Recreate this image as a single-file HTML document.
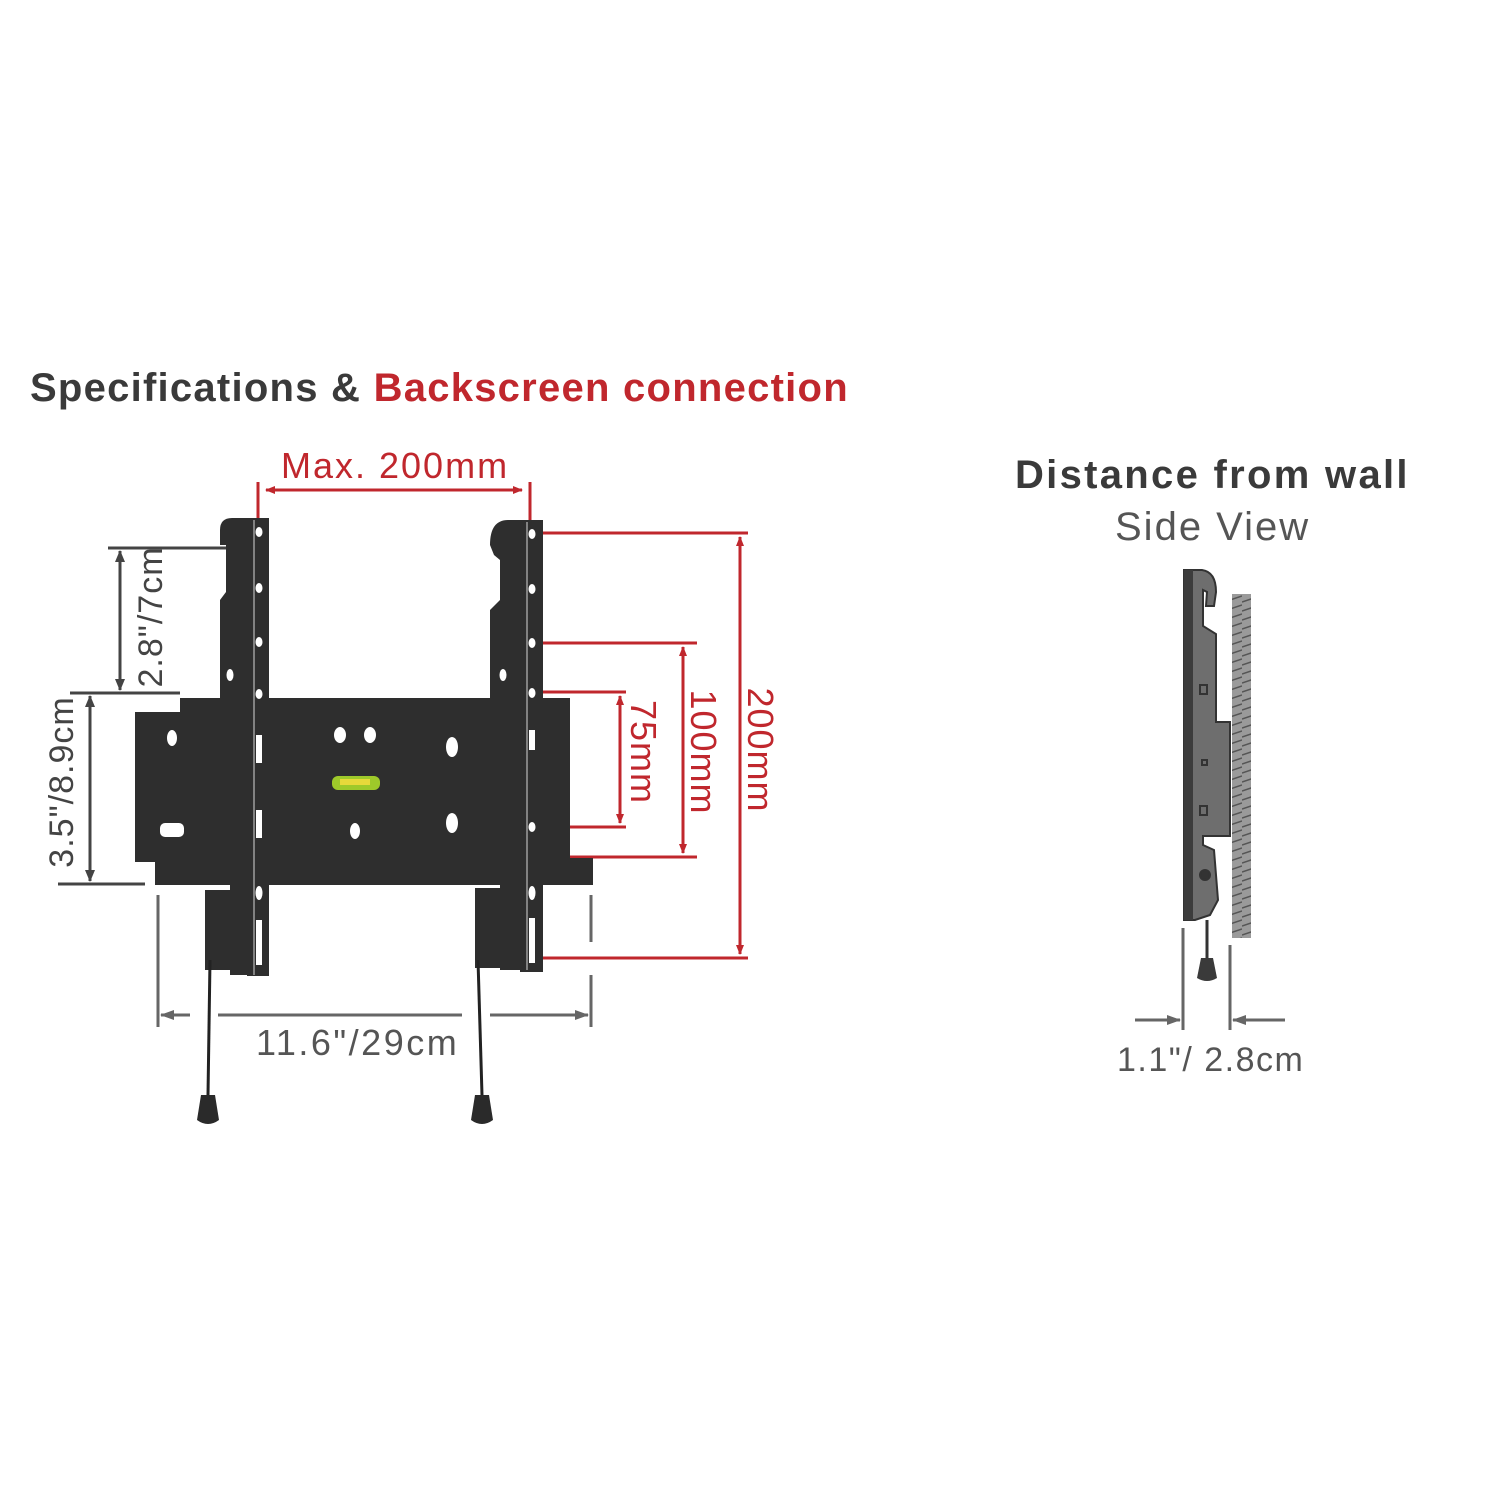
<!DOCTYPE html>
<html><head><meta charset="utf-8"><style>
html,body{margin:0;padding:0;background:#fff;}
svg{display:block;}
text{font-family:"Liberation Sans",sans-serif;}
</style></head><body>
<svg width="1500" height="1500" viewBox="0 0 1500 1500" xmlns="http://www.w3.org/2000/svg">
<defs>
<marker id="ar" markerWidth="10" markerHeight="10" refX="9" refY="5" orient="auto" markerUnits="userSpaceOnUse"><path d="M0,1 L10,5 L0,9 z" fill="#c0272d"/></marker>
<marker id="ab" markerWidth="12" markerHeight="12" refX="11" refY="6" orient="auto" markerUnits="userSpaceOnUse"><path d="M0,1 L12,6 L0,11 z" fill="#444"/></marker>
<marker id="ag" markerWidth="14" markerHeight="12" refX="13" refY="6" orient="auto" markerUnits="userSpaceOnUse"><path d="M0,1 L14,6 L0,11 z" fill="#666"/></marker>
<pattern id="hatch" width="18" height="9" patternUnits="userSpaceOnUse"><rect width="18" height="9" fill="#9a9a9a"/><path d="M0,8 L18,2" stroke="#555" stroke-width="1.5"/></pattern>
</defs>
<rect width="1500" height="1500" fill="#fff"/>
<text x="30" y="401" font-size="40" font-weight="bold" fill="#3a3a3a" letter-spacing="1.25">Specifications &amp; <tspan fill="#c0272d">Backscreen connection</tspan></text>
<text x="281" y="478" font-size="36" fill="#c0272d" letter-spacing="2">Max. 200mm</text>
<g stroke="#c0272d" stroke-width="3" fill="none">
<line x1="258" y1="482" x2="258" y2="528"/><line x1="530" y1="482" x2="530" y2="528"/>
<line x1="268" y1="490" x2="522" y2="490" marker-end="url(#ar)"/><line x1="520" y1="490" x2="266" y2="490" marker-end="url(#ar)"/>
<line x1="538" y1="533" x2="748" y2="533"/><line x1="538" y1="958" x2="748" y2="958"/>
<line x1="538" y1="643" x2="697" y2="643"/><line x1="538" y1="857" x2="697" y2="857"/>
<line x1="538" y1="692" x2="626" y2="692"/><line x1="538" y1="827" x2="626" y2="827"/>
<line x1="740" y1="745" x2="740" y2="537" marker-end="url(#ar)"/><line x1="740" y1="745" x2="740" y2="954" marker-end="url(#ar)"/>
<line x1="683" y1="750" x2="683" y2="647" marker-end="url(#ar)"/><line x1="683" y1="750" x2="683" y2="853" marker-end="url(#ar)"/>
<line x1="620" y1="760" x2="620" y2="696" marker-end="url(#ar)"/><line x1="620" y1="760" x2="620" y2="823" marker-end="url(#ar)"/>
</g>
<text transform="translate(748,750) rotate(90)" font-size="36" fill="#c0272d" text-anchor="middle" letter-spacing="1">200mm</text>
<text transform="translate(691,752) rotate(90)" font-size="36" fill="#c0272d" text-anchor="middle" letter-spacing="1">100mm</text>
<text transform="translate(631,752) rotate(90)" font-size="36" fill="#c0272d" text-anchor="middle" letter-spacing="1">75mm</text>
<g fill="#2e2e2e">
<rect x="135" y="712" width="435" height="150"/>
<rect x="180" y="698" width="390" height="20"/>
<rect x="155" y="858" width="438" height="27"/>
<path d="M220,530 Q220,518 232,518 L247,518 L247,700 L220,700 L220,600 L226,592 L226,545 L220,545 Z"/>
<path d="M490,545 Q490,520 508,520 L520,520 L520,700 L490,700 L490,610 L500,600 L500,560 L494,555 Z"/>
<rect x="247" y="518" width="22" height="458"/>
<rect x="520" y="520" width="23" height="452"/>
<rect x="205" y="890" width="32" height="80"/>
<rect x="475" y="888" width="32" height="80"/>
<rect x="230" y="885" width="20" height="90"/>
<rect x="500" y="885" width="20" height="85"/>
</g>
<g stroke="#bbb" stroke-width="1.2"><line x1="254" y1="520" x2="254" y2="975"/><line x1="527" y1="522" x2="527" y2="970"/></g>
<g fill="#fff">
<ellipse cx="259" cy="532" rx="3.5" ry="5"/><ellipse cx="259" cy="588" rx="3.5" ry="5"/><ellipse cx="259" cy="642" rx="3.5" ry="5"/><ellipse cx="259" cy="694" rx="3.5" ry="5"/>
<rect x="256" y="735" width="6" height="28"/><rect x="256" y="810" width="6" height="28"/><ellipse cx="259" cy="893" rx="3.5" ry="7"/><rect x="256" y="920" width="6" height="45"/>
<ellipse cx="532" cy="534" rx="3.5" ry="5"/><ellipse cx="532" cy="589" rx="3.5" ry="5"/><ellipse cx="532" cy="643" rx="3.5" ry="5"/><ellipse cx="532" cy="693" rx="3.5" ry="5"/>
<rect x="529" y="730" width="6" height="20"/><ellipse cx="532" cy="827" rx="3.5" ry="5"/><ellipse cx="532" cy="893" rx="3.5" ry="7"/><rect x="529" y="918" width="6" height="45"/>
<ellipse cx="230" cy="675" rx="3.5" ry="6"/><ellipse cx="503" cy="675" rx="3.5" ry="6"/>
<ellipse cx="172" cy="738" rx="5" ry="8"/><rect x="160" y="823" width="24" height="14" rx="5"/>
<ellipse cx="340" cy="735" rx="6" ry="8"/><ellipse cx="370" cy="735" rx="6" ry="8"/>
<ellipse cx="452" cy="747" rx="6" ry="10"/><ellipse cx="452" cy="823" rx="6" ry="10"/><ellipse cx="355" cy="831" rx="5" ry="8"/>
</g>
<rect x="332" y="776" width="48" height="14" rx="6" fill="#9ec92a"/><rect x="340" y="779" width="30" height="6" fill="#e6d93a"/>
<g stroke="#222" stroke-width="3" fill="none"><path d="M210,960 L208,1095"/><path d="M478,960 L482,1095"/></g>
<path d="M201,1095 L215,1095 L219,1120 Q208,1128 197,1120 Z" fill="#2a2a2a"/>
<path d="M475,1095 L489,1095 L493,1120 Q482,1128 471,1120 Z" fill="#2a2a2a"/>
<g stroke="#444" stroke-width="3" fill="none">
<line x1="108" y1="548" x2="226" y2="548"/><line x1="70" y1="693" x2="180" y2="693"/><line x1="58" y1="884" x2="145" y2="884"/>
<line x1="120" y1="620" x2="120" y2="551" marker-end="url(#ab)"/><line x1="120" y1="620" x2="120" y2="690" marker-end="url(#ab)"/>
<line x1="90" y1="790" x2="90" y2="696" marker-end="url(#ab)"/><line x1="90" y1="790" x2="90" y2="881" marker-end="url(#ab)"/>
</g>
<text transform="translate(162,617) rotate(-90)" font-size="34" fill="#444" text-anchor="middle" letter-spacing="1">2.8"/7cm</text>
<text transform="translate(73,782) rotate(-90)" font-size="34" fill="#444" text-anchor="middle" letter-spacing="1">3.5"/8.9cm</text>
<g stroke="#666" stroke-width="3" fill="none">
<line x1="158" y1="895" x2="158" y2="1027"/><line x1="591" y1="895" x2="591" y2="942"/><line x1="591" y1="975" x2="591" y2="1027"/>
<line x1="175" y1="1015" x2="161" y2="1015" marker-end="url(#ag)"/><line x1="172" y1="1015" x2="190" y2="1015"/>
<line x1="218" y1="1015" x2="462" y2="1015"/><line x1="490" y1="1015" x2="588" y2="1015" marker-end="url(#ag)"/>
</g>
<text x="256" y="1055" font-size="36" fill="#555" letter-spacing="2.5">11.6"/29cm</text>
<text x="1015" y="488" font-size="40" font-weight="bold" fill="#3a3a3a" letter-spacing="2.3">Distance from wall</text>
<text x="1115" y="540" font-size="40" fill="#555" letter-spacing="2">Side View</text>
<rect x="1232" y="594" width="19" height="344" fill="url(#hatch)"/>
<path d="M1184,570 L1202,570 Q1216,572 1216,592 L1214,606 L1206,606 L1207,592 L1203,590 L1203,626 L1216,634 L1216,722 L1230,722 L1230,836 L1203,836 L1203,845 L1214,850 L1218,900 L1210,915 L1195,920 L1184,920 Z" fill="#6e6e6e" stroke="#333" stroke-width="2"/>
<rect x="1184" y="570" width="9" height="350" fill="#3c3c3c"/>
<g stroke="#333" stroke-width="2" fill="none"><rect x="1200" y="685" width="7" height="9"/><rect x="1200" y="806" width="7" height="9"/><rect x="1202" y="760" width="5" height="5"/><circle cx="1205" cy="875" r="5" fill="#333"/></g>
<line x1="1207" y1="920" x2="1207" y2="958" stroke="#333" stroke-width="3"/>
<path d="M1201,958 L1213,958 L1217,978 Q1207,984 1197,978 Z" fill="#3a3a3a"/>
<g stroke="#666" stroke-width="3" fill="none">
<line x1="1183" y1="928" x2="1183" y2="1030"/><line x1="1230" y1="945" x2="1230" y2="1030"/>
<line x1="1135" y1="1020" x2="1180" y2="1020" marker-end="url(#ag)"/><line x1="1285" y1="1020" x2="1233" y2="1020" marker-end="url(#ag)"/>
</g>
<text x="1117" y="1071" font-size="34" fill="#555" letter-spacing="1.5">1.1"/ 2.8cm</text>
</svg>
</body></html>
